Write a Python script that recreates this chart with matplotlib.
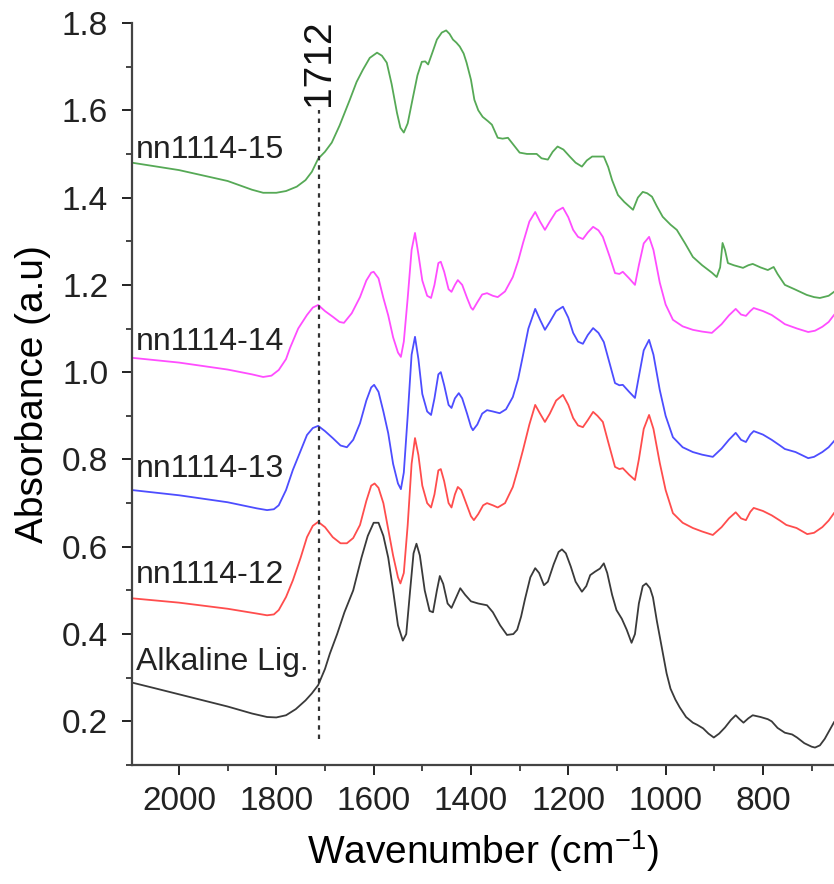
import matplotlib.pyplot as plt
from matplotlib.ticker import MultipleLocator

plt.rcParams['font.family'] = ['Liberation Sans', 'DejaVu Sans']
plt.rcParams['mathtext.fontset'] = 'custom'
plt.rcParams['mathtext.rm'] = 'Liberation Sans'

# Alkaline lignin
w_alk = [2097, 2050, 2000, 1950, 1900, 1850, 1819, 1800, 1780, 1760, 1740, 1727, 1714, 1700, 1690,
         1675, 1660, 1642, 1625, 1612, 1600, 1590, 1580, 1570, 1560, 1550, 1540, 1533, 1525, 1518,
         1512, 1505, 1495, 1485, 1478, 1470, 1464, 1457, 1448, 1440, 1432, 1422, 1412, 1400, 1385,
         1367, 1355, 1340, 1326, 1313, 1305, 1297, 1289, 1278, 1268, 1260, 1250, 1242, 1230, 1220,
         1213, 1205, 1195, 1185, 1172, 1163, 1155, 1145, 1135, 1127, 1120, 1110, 1101, 1090, 1080,
         1070, 1063, 1055, 1047, 1040, 1032, 1026, 1018, 1008, 998, 990, 980, 971, 958, 944, 935,
         923, 912, 901, 890, 878, 866, 856, 848, 840, 830, 821, 805, 790, 782, 770, 755, 740, 730,
         715, 700, 693, 683, 673, 663, 654]
a_alk = [0.289, 0.276, 0.262, 0.248, 0.234, 0.218, 0.210, 0.209, 0.214, 0.228, 0.248, 0.264, 0.283,
         0.320, 0.355, 0.400, 0.450, 0.500, 0.575, 0.625, 0.655, 0.655, 0.625, 0.575, 0.500, 0.420,
         0.385, 0.400, 0.500, 0.585, 0.607, 0.580, 0.500, 0.453, 0.450, 0.500, 0.533, 0.515, 0.470,
         0.460, 0.480, 0.505, 0.490, 0.475, 0.470, 0.466, 0.450, 0.420, 0.398, 0.400, 0.410, 0.440,
         0.480, 0.530, 0.551, 0.540, 0.512, 0.520, 0.560, 0.588, 0.594, 0.585, 0.555, 0.520, 0.497,
         0.510, 0.535, 0.543, 0.550, 0.562, 0.540, 0.490, 0.455, 0.435, 0.410, 0.380, 0.400, 0.470,
         0.510, 0.516, 0.505, 0.484, 0.430, 0.370, 0.310, 0.275, 0.250, 0.232, 0.210, 0.197, 0.192,
         0.184, 0.172, 0.163, 0.172, 0.186, 0.203, 0.214, 0.205, 0.197, 0.207, 0.214, 0.210, 0.205,
         0.200, 0.185, 0.174, 0.170, 0.163, 0.150, 0.142, 0.140, 0.145, 0.160, 0.180, 0.198]

# nn1114-12
w_12 = [2097, 2000, 1900, 1840, 1819, 1805, 1795, 1780, 1766, 1750, 1737, 1725, 1714, 1700, 1684,
        1668, 1655, 1642, 1628, 1615, 1605, 1598, 1590, 1580, 1570, 1560, 1550, 1545, 1538, 1530,
        1522, 1515, 1508, 1500, 1490, 1482, 1475, 1467, 1462, 1455, 1446, 1440, 1433, 1427, 1420,
        1410, 1400, 1394, 1385, 1375, 1367, 1355, 1345, 1330, 1314, 1303, 1293, 1280, 1268, 1258,
        1248, 1238, 1225, 1211, 1200, 1190, 1180, 1170, 1160, 1149, 1140, 1129, 1118, 1104, 1095,
        1088, 1075, 1063, 1055, 1045, 1034, 1025, 1012, 1000, 985, 965, 944, 925, 903, 885, 870,
        856, 845, 835, 826, 819, 800, 782, 765, 752, 731, 709, 695, 678, 665, 654]
a_12 = [0.482, 0.472, 0.458, 0.447, 0.443, 0.445, 0.455, 0.485, 0.523, 0.575, 0.622, 0.648, 0.657,
        0.645, 0.622, 0.608, 0.608, 0.620, 0.650, 0.705, 0.740, 0.745, 0.735, 0.700, 0.640, 0.580,
        0.530, 0.516, 0.540, 0.650, 0.790, 0.849, 0.810, 0.740, 0.700, 0.690, 0.720, 0.775, 0.778,
        0.750, 0.700, 0.690, 0.720, 0.737, 0.730, 0.700, 0.670, 0.661, 0.675, 0.695, 0.700, 0.695,
        0.690, 0.700, 0.737, 0.780, 0.822, 0.880, 0.925, 0.905, 0.886, 0.905, 0.935, 0.948, 0.925,
        0.895, 0.878, 0.874, 0.890, 0.909, 0.900, 0.886, 0.840, 0.783, 0.778, 0.780, 0.765, 0.753,
        0.800, 0.870, 0.902, 0.870, 0.792, 0.730, 0.677, 0.655, 0.643, 0.635, 0.627, 0.645, 0.665,
        0.679, 0.665, 0.661, 0.680, 0.689, 0.682, 0.672, 0.660, 0.650, 0.643, 0.629, 0.632, 0.645,
        0.660, 0.677]

# nn1114-13
w_13 = [2097, 2000, 1900, 1840, 1819, 1805, 1795, 1780, 1766, 1750, 1737, 1725, 1714, 1700, 1684,
        1668, 1655, 1642, 1628, 1615, 1605, 1599, 1590, 1580, 1570, 1560, 1550, 1544, 1538, 1530,
        1522, 1515, 1508, 1500, 1490, 1482, 1475, 1467, 1462, 1455, 1446, 1440, 1433, 1425, 1418,
        1408, 1400, 1396, 1387, 1377, 1367, 1355, 1341, 1328, 1314, 1303, 1295, 1282, 1268, 1258,
        1248, 1238, 1225, 1211, 1200, 1190, 1180, 1170, 1160, 1149, 1138, 1127, 1115, 1104, 1095,
        1088, 1075, 1063, 1055, 1045, 1034, 1025, 1012, 1000, 985, 965, 944, 925, 903, 885, 870,
        856, 845, 835, 826, 819, 800, 782, 765, 755, 733, 707, 695, 678, 665, 654]
a_13 = [0.730, 0.718, 0.702, 0.688, 0.684, 0.686, 0.695, 0.730, 0.776, 0.820, 0.856, 0.872, 0.877,
        0.865, 0.849, 0.832, 0.828, 0.845, 0.883, 0.935, 0.965, 0.971, 0.955, 0.910, 0.860, 0.790,
        0.745, 0.732, 0.770, 0.900, 1.040, 1.081, 1.030, 0.950, 0.910, 0.902, 0.940, 0.995, 1.000,
        0.970, 0.925, 0.918, 0.940, 0.952, 0.940, 0.905, 0.875, 0.867, 0.880, 0.905, 0.913, 0.910,
        0.906, 0.915, 0.943, 0.985, 1.028, 1.100, 1.145, 1.120, 1.097, 1.115, 1.140, 1.150, 1.125,
        1.090, 1.070, 1.065, 1.085, 1.101, 1.090, 1.069, 1.020, 0.975, 0.970, 0.971, 0.955, 0.941,
        0.990, 1.050, 1.074, 1.040, 0.959, 0.900, 0.851, 0.828, 0.817, 0.811, 0.806, 0.825, 0.845,
        0.861, 0.845, 0.840, 0.857, 0.865, 0.857, 0.845, 0.832, 0.824, 0.817, 0.803, 0.806, 0.817,
        0.828, 0.842]

# nn1114-14
w_14 = [2097, 2000, 1900, 1850, 1827, 1810, 1795, 1780, 1772, 1755, 1737, 1725, 1714, 1700, 1684,
        1670, 1661, 1645, 1628, 1615, 1605, 1600, 1590, 1580, 1570, 1560, 1550, 1544, 1538, 1530,
        1522, 1515, 1508, 1500, 1490, 1482, 1475, 1467, 1462, 1455, 1446, 1440, 1433, 1427, 1418,
        1408, 1400, 1396, 1387, 1377, 1367, 1355, 1345, 1330, 1314, 1303, 1293, 1280, 1268, 1258,
        1248, 1238, 1225, 1211, 1200, 1190, 1180, 1170, 1160, 1149, 1138, 1129, 1115, 1104, 1095,
        1088, 1075, 1063, 1055, 1045, 1034, 1025, 1012, 1000, 985, 965, 944, 925, 905, 885, 870,
        856, 845, 835, 826, 819, 800, 782, 765, 755, 730, 707, 693, 678, 665, 654]
a_14 = [1.033, 1.022, 1.006, 0.995, 0.989, 0.992, 1.005, 1.030, 1.055, 1.100, 1.131, 1.148, 1.154,
        1.140, 1.127, 1.115, 1.113, 1.135, 1.172, 1.210, 1.228, 1.230, 1.215, 1.170, 1.130, 1.080,
        1.045, 1.035, 1.070, 1.170, 1.280, 1.319, 1.270, 1.210, 1.175, 1.170, 1.200, 1.250, 1.253,
        1.230, 1.190, 1.184, 1.200, 1.211, 1.200, 1.170, 1.148, 1.143, 1.160, 1.178, 1.181, 1.175,
        1.172, 1.185, 1.218, 1.255, 1.296, 1.345, 1.367, 1.345, 1.326, 1.345, 1.368, 1.377, 1.355,
        1.326, 1.310, 1.305, 1.320, 1.333, 1.325, 1.310, 1.265, 1.227, 1.225, 1.230, 1.215, 1.200,
        1.245, 1.295, 1.310, 1.280, 1.205, 1.155, 1.120, 1.105, 1.097, 1.093, 1.090, 1.110, 1.130,
        1.145, 1.132, 1.129, 1.140, 1.147, 1.140, 1.131, 1.118, 1.110, 1.100, 1.092, 1.095, 1.104,
        1.115, 1.131]

# nn1114-15
w_15 = [2097, 2000, 1900, 1850, 1827, 1800, 1780, 1758, 1740, 1727, 1714, 1700, 1686, 1670, 1649,
        1635, 1622, 1608, 1593, 1583, 1573, 1563, 1552, 1545, 1538, 1530, 1519, 1510, 1501, 1494,
        1488, 1480, 1470, 1460, 1451, 1444, 1437, 1430, 1423, 1415, 1409, 1400, 1393, 1385, 1376,
        1365, 1357, 1345, 1335, 1324, 1312, 1300, 1285, 1275, 1265, 1255, 1242, 1232, 1222, 1210,
        1197, 1185, 1172, 1162, 1151, 1140, 1127, 1118, 1110, 1098, 1085, 1067, 1057, 1047, 1038,
        1028, 1018, 1006, 990, 977, 960, 944, 925, 905, 895, 888, 883, 878, 872, 860, 841, 830,
        821, 805, 790, 778, 770, 755, 735, 710, 695, 683, 665, 654]
a_15 = [1.480, 1.463, 1.438, 1.418, 1.411, 1.411, 1.415, 1.425, 1.440, 1.459, 1.489, 1.505, 1.526,
        1.565, 1.624, 1.665, 1.693, 1.720, 1.732, 1.725, 1.709, 1.660, 1.594, 1.560, 1.549, 1.570,
        1.631, 1.680, 1.711, 1.712, 1.705, 1.730, 1.762, 1.778, 1.783, 1.775, 1.762, 1.755, 1.746,
        1.730, 1.709, 1.670, 1.624, 1.600, 1.585, 1.575, 1.567, 1.537, 1.535, 1.537, 1.520, 1.503,
        1.500, 1.500, 1.500, 1.490, 1.487, 1.505, 1.517, 1.510, 1.494, 1.480, 1.471, 1.485, 1.494,
        1.494, 1.494, 1.470, 1.440, 1.406, 1.390, 1.372, 1.400, 1.413, 1.410, 1.402, 1.380, 1.356,
        1.338, 1.326, 1.295, 1.264, 1.245, 1.228, 1.218, 1.240, 1.296, 1.280, 1.250, 1.245, 1.239,
        1.245, 1.248, 1.240, 1.234, 1.241, 1.225, 1.200, 1.190, 1.177, 1.172, 1.170, 1.175, 1.184]

labels = ['Alkaline Lig.', 'nn1114-12', 'nn1114-13', 'nn1114-14', 'nn1114-15']
label_y = [0.335, 0.535, 0.778, 1.069, 1.51]
colors = ['#3a3a3a', '#ff4d4d', '#4d4dff', '#ff4dff', '#56a956']
xs = [w_alk, w_12, w_13, w_14, w_15]
ys = [a_alk, a_12, a_13, a_14, a_15]

fig = plt.figure(figsize=(8.34, 8.84), dpi=100)
ax = fig.add_axes([0.158, 0.1346, 0.842, 0.8394])

for x, y, c in zip(xs, ys, colors):
    ax.plot(x, y, color=c, lw=1.3)

for lab, ly in zip(labels, label_y):
    ax.text(2088, ly, lab, fontsize=23, ha='left', va='center', color='#222222')

ax.plot([1712, 1712], [0.16, 1.6], color='#333333', lw=1.6, ls=(0, (2, 2.2)))
ax.text(1712, 1.61, '1712', rotation=90, ha='center', va='bottom', fontsize=28,
        color='#111111')

ax.set_xlim(2097, 654)
ax.set_ylim(0.1, 1.8)
ax.xaxis.set_major_locator(MultipleLocator(200))
ax.xaxis.set_minor_locator(MultipleLocator(100))
ax.yaxis.set_major_locator(MultipleLocator(0.2))
ax.yaxis.set_minor_locator(MultipleLocator(0.1))
ax.yaxis.set_major_formatter(plt.FormatStrFormatter('%.1f'))

for s in ['top', 'right']:
    ax.spines[s].set_visible(False)
for s in ['left', 'bottom']:
    ax.spines[s].set_linewidth(1.6)
    ax.spines[s].set_color('#444444')
ax.tick_params(which='both', direction='out', color='#444444', width=1.4)
ax.tick_params(which='major', length=7, labelsize=24, colors='#222222', pad=10)
ax.tick_params(which='minor', length=4)
ax.tick_params(axis='x', which='major', pad=8)

ax.set_xlabel('Wavenumber (cm$^{\\mathrm{-1}}$)', fontsize=28, labelpad=8)
ax.set_ylabel('Absorbance (a.u)', fontsize=28, labelpad=8)

fig.savefig('out.png', dpi=100)
